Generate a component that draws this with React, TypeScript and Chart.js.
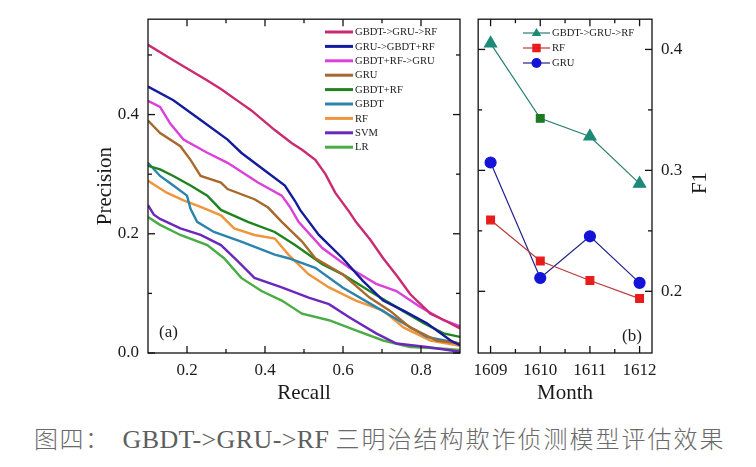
import React, { useEffect, useRef } from "react";
import { Chart, registerables } from "chart.js";

Chart.register(...registerables);

const FONT = '"Liberation Serif", "Times New Roman", serif';

// ---------- Panel (a): Precision-Recall ----------
const seriesNamesA = ["GBDT->GRU->RF", "GRU->GBDT+RF", "GBDT+RF->GRU", "GRU", "GBDT+RF", "GBDT", "RF", "SVM", "LR"];
const seriesColorsA = ["#cc2a70", "#141c9e", "#dc40d8", "#a8692e", "#1f841f", "#2a84ae", "#f0953c", "#6c28bc", "#4aac44"];

const recall_GGR = [0.1, 0.15, 0.209, 0.25, 0.287, 0.33, 0.365, 0.425, 0.469, 0.495, 0.529, 0.555, 0.58, 0.617, 0.633, 0.67, 0.703, 0.74, 0.772, 0.824, 0.86, 0.9];
const prec_GGR = [0.517, 0.497, 0.474, 0.458, 0.443, 0.423, 0.407, 0.374, 0.352, 0.341, 0.324, 0.3, 0.269, 0.236, 0.22, 0.19, 0.159, 0.128, 0.099, 0.066, 0.055, 0.041];

const recall_GGBR = [0.1, 0.165, 0.235, 0.304, 0.339, 0.408, 0.451, 0.477, 0.49, 0.538, 0.599, 0.651, 0.703, 0.755, 0.815, 0.876, 0.9];
const prec_GGBR = [0.447, 0.424, 0.391, 0.358, 0.336, 0.302, 0.281, 0.255, 0.24, 0.198, 0.159, 0.121, 0.088, 0.071, 0.05, 0.021, 0.013];

const recall_GRG = [0.1, 0.131, 0.157, 0.191, 0.252, 0.304, 0.382, 0.443, 0.464, 0.486, 0.547, 0.616, 0.685, 0.737, 0.798, 0.858, 0.9];
const prec_GRG = [0.423, 0.413, 0.385, 0.358, 0.336, 0.319, 0.286, 0.264, 0.245, 0.22, 0.176, 0.143, 0.116, 0.104, 0.077, 0.055, 0.045];

const recall_GRU = [0.1, 0.131, 0.183, 0.209, 0.235, 0.287, 0.304, 0.373, 0.408, 0.443, 0.495, 0.529, 0.599, 0.668, 0.72, 0.772, 0.84, 0.9];
const prec_GRU = [0.39, 0.369, 0.347, 0.324, 0.297, 0.286, 0.275, 0.258, 0.244, 0.22, 0.187, 0.159, 0.132, 0.093, 0.071, 0.043, 0.021, 0.016];

const recall_GBRF = [0.1, 0.131, 0.165, 0.209, 0.252, 0.287, 0.356, 0.425, 0.477, 0.547, 0.599, 0.668, 0.737, 0.807, 0.858, 0.9];
const prec_GBRF = [0.314, 0.308, 0.297, 0.281, 0.264, 0.24, 0.22, 0.203, 0.181, 0.149, 0.132, 0.104, 0.077, 0.05, 0.033, 0.027];

const recall_GBDT = [0.1, 0.131, 0.165, 0.2, 0.209, 0.226, 0.269, 0.339, 0.425, 0.46, 0.529, 0.599, 0.685, 0.755, 0.815, 0.9];
const prec_GBDT = [0.319, 0.297, 0.281, 0.264, 0.242, 0.22, 0.203, 0.187, 0.165, 0.159, 0.143, 0.11, 0.077, 0.05, 0.027, 0.016];

const recall_RF = [0.1, 0.148, 0.191, 0.235, 0.287, 0.321, 0.373, 0.425, 0.46, 0.512, 0.564, 0.633, 0.703, 0.755, 0.824, 0.9];
const prec_RF = [0.289, 0.269, 0.256, 0.245, 0.231, 0.209, 0.198, 0.192, 0.165, 0.132, 0.11, 0.088, 0.071, 0.043, 0.021, 0.012];

const recall_SVM = [0.1, 0.115, 0.131, 0.183, 0.235, 0.287, 0.33, 0.373, 0.443, 0.512, 0.564, 0.616, 0.685, 0.737, 0.815, 0.9];
const prec_SVM = [0.248, 0.232, 0.225, 0.209, 0.198, 0.181, 0.154, 0.126, 0.11, 0.093, 0.082, 0.06, 0.033, 0.016, 0.01, 0.002];

const recall_LR = [0.1, 0.131, 0.183, 0.252, 0.295, 0.339, 0.391, 0.443, 0.495, 0.564, 0.633, 0.703, 0.772, 0.84, 0.9];
const prec_LR = [0.228, 0.215, 0.198, 0.181, 0.159, 0.126, 0.104, 0.088, 0.066, 0.055, 0.038, 0.021, 0.01, 0.008, 0.005];

const recallSeries = [recall_GGR, recall_GGBR, recall_GRG, recall_GRU, recall_GBRF, recall_GBDT, recall_RF, recall_SVM, recall_LR];
const precisionSeries = [prec_GGR, prec_GGBR, prec_GRG, prec_GRU, prec_GBRF, prec_GBDT, prec_RF, prec_SVM, prec_LR];

const xTicksA = [0.2, 0.4, 0.6, 0.8];
const xMinorA = [0.3, 0.5, 0.7];
const yTicksA = [0, 0.2, 0.4];
const yMinorA = [0.1, 0.3, 0.5];

// ---------- Panel (b): F1 by month ----------
const months = ["1609", "1610", "1611", "1612"];
const f1_GGR = [0.405, 0.343, 0.328, 0.289];
const f1_RF = [0.259, 0.225, 0.209, 0.194];
const f1_GRU = [0.3065, 0.211, 0.2455, 0.207];
const xTicksB = [0, 1, 2, 3];
const xMinorB = [0.5, 1.5, 2.5];
const yTicksB = [0.2, 0.3, 0.4];
const yMinorB = [0.25, 0.35];

// ---------- plugins ----------
const framePlugin = {
  id: "frame",
  afterDatasetsDraw(chart: any, _args: any, opts: any) {
    const { ctx, chartArea, scales } = chart;
    const { left, right, top, bottom } = chartArea;
    ctx.save();
    ctx.strokeStyle = "#111";
    ctx.lineWidth = 1.3;
    ctx.strokeRect(left, top, right - left, bottom - top);
    const seg = (x1: number, y1: number, x2: number, y2: number) => {
      ctx.beginPath();
      ctx.moveTo(x1, y1);
      ctx.lineTo(x2, y2);
      ctx.stroke();
    };
    const xs = scales.x;
    const ys = scales.y;
    const xt = (vals: number[], len: number) =>
      vals.forEach((v) => {
        const px = xs.getPixelForValue(v);
        seg(px, bottom, px, bottom - len);
        seg(px, top, px, top + len);
      });
    const yt = (vals: number[], len: number) =>
      vals.forEach((v) => {
        const py = ys.getPixelForValue(v);
        seg(left, py, left + len, py);
        seg(right, py, right - len, py);
      });
    xt(opts.xMajor || [], 7);
    xt(opts.xMinor || [], 4);
    yt(opts.yMajor || [], 7);
    yt(opts.yMinor || [], 4);
    ctx.restore();
  },
};

function drawMarker(ctx: CanvasRenderingContext2D, style: string, x: number, y: number, r: number, color: string) {
  ctx.save();
  ctx.fillStyle = color;
  ctx.beginPath();
  if (style === "triangle") {
    ctx.moveTo(x, y - r);
    ctx.lineTo(x + r * 0.95, y + r * 0.6);
    ctx.lineTo(x - r * 0.95, y + r * 0.6);
    ctx.closePath();
  } else if (style === "rect") {
    ctx.rect(x - r * 0.85, y - r * 0.85, r * 1.7, r * 1.7);
  } else {
    ctx.arc(x, y, r, 0, Math.PI * 2);
  }
  ctx.fill();
  ctx.restore();
}

const legendPlugin = {
  id: "boxLegend",
  afterDraw(chart: any, _args: any, opts: any) {
    const { ctx } = chart;
    ctx.save();
    ctx.font = `${opts.fontSize}px ${FONT}`;
    ctx.textBaseline = "middle";
    ctx.textAlign = "left";
    chart.data.datasets.forEach((ds: any, i: number) => {
      const y = opts.y0 + i * opts.dy;
      ctx.strokeStyle = ds.borderColor;
      ctx.lineWidth = opts.lineWidth;
      ctx.beginPath();
      ctx.moveTo(opts.x0, y);
      ctx.lineTo(opts.x1, y);
      ctx.stroke();
      if (opts.markers) {
        const st = Array.isArray(ds.pointStyle) ? ds.pointStyle[0] : ds.pointStyle;
        const col = Array.isArray(ds.pointBackgroundColor) ? ds.pointBackgroundColor[0] : ds.pointBackgroundColor;
        drawMarker(ctx, st, (opts.x0 + opts.x1) / 2, y, opts.markerR, col);
      }
      ctx.fillStyle = "#222";
      ctx.fillText(ds.label, opts.textX, y + 0.5);
    });
    ctx.restore();
  },
};

const textPlugin = {
  id: "texts",
  afterDraw(chart: any, _args: any, opts: any) {
    const { ctx } = chart;
    (opts.items || []).forEach((t: any) => {
      ctx.save();
      ctx.font = `${t.size}px ${FONT}`;
      ctx.fillStyle = "#1a1a1a";
      ctx.textBaseline = "middle";
      ctx.textAlign = t.align || "left";
      ctx.translate(t.x, t.y);
      if (t.rotate) ctx.rotate(t.rotate);
      ctx.fillText(t.text, 0, 0);
      ctx.restore();
    });
  },
};

const tickFont = { family: FONT, size: 17 };
const titleFont = { family: FONT, size: 21 };

function PanelA() {
  const ref = useRef<HTMLCanvasElement | null>(null);
  useEffect(() => {
    if (!ref.current) return;
    const datasets = seriesNamesA.map((name, i) => ({
      label: name,
      data: recallSeries[i].map((r, j) => ({ x: r, y: precisionSeries[i][j] })),
      borderColor: seriesColorsA[i],
      backgroundColor: seriesColorsA[i],
      borderWidth: 2.4,
      pointRadius: 0,
      showLine: true,
      tension: 0,
      fill: false,
    }));
    const chart = new Chart(ref.current, {
      type: "scatter",
      data: { datasets },
      plugins: [framePlugin, legendPlugin, textPlugin],
      options: {
        animation: false,
        responsive: false,
        maintainAspectRatio: false,
        layout: { padding: { left: 93, top: 14, right: 6, bottom: 0 } },
        scales: {
          x: {
            type: "linear",
            min: 0.1,
            max: 0.9,
            afterBuildTicks: (s: any) => {
              s.ticks = xTicksA.map((v) => ({ value: v }));
            },
            afterFit: (s: any) => {
              s.height = 57;
            },
            grid: { display: false, drawTicks: false },
            border: { display: false },
            ticks: { font: tickFont, color: "#1a1a1a", padding: 7, maxRotation: 0, callback: (v: any) => Number(v).toFixed(1) },
            title: { display: true, text: "Recall", font: titleFont, color: "#1a1a1a", padding: { top: 0, bottom: 4 } },
          },
          y: {
            type: "linear",
            min: 0,
            max: 0.56,
            afterBuildTicks: (s: any) => {
              s.ticks = yTicksA.map((v) => ({ value: v }));
            },
            afterFit: (s: any) => {
              s.width = 55;
            },
            grid: { display: false, drawTicks: false },
            border: { display: false },
            ticks: { font: tickFont, color: "#1a1a1a", padding: 9, callback: (v: any) => Number(v).toFixed(1) },
            title: { display: true, text: "Precision", font: titleFont, color: "#1a1a1a", padding: { top: 0, bottom: 0 } },
          },
        },
        plugins: {
          legend: { display: false },
          tooltip: { enabled: false },
          frame: { xMajor: xTicksA, xMinor: xMinorA, yMajor: yTicksA, yMinor: yMinorA },
          boxLegend: { x0: 325, x1: 353, textX: 355, y0: 32, dy: 14.4, fontSize: 10.6, lineWidth: 3, markers: false },
          texts: { items: [{ text: "(a)", x: 159, y: 333, size: 17 }] },
        } as any,
      } as any,
    });
    return () => chart.destroy();
  }, []);
  return <canvas ref={ref} width={466} height={410} style={{ position: "absolute", left: 0, top: 0, width: 466, height: 410 }} />;
}

function PanelB() {
  const ref = useRef<HTMLCanvasElement | null>(null);
  useEffect(() => {
    if (!ref.current) return;
    const mk = (vals: number[]) => vals.map((v, i) => ({ x: i, y: v }));
    const chart = new Chart(ref.current, {
      type: "line",
      data: {
        datasets: [
          {
            label: "GBDT->GRU->RF",
            data: mk(f1_GGR),
            borderColor: "#2a7f70",
            borderWidth: 1.2,
            pointStyle: ["triangle", "rect", "triangle", "triangle"],
            pointBackgroundColor: ["#1d8a78", "#1e7a22", "#1d8a78", "#1d8a78"],
            pointBorderColor: ["#1d8a78", "#1e7a22", "#1d8a78", "#1d8a78"],
            pointRadius: [7, 5.5, 7, 7],
            tension: 0,
          },
          {
            label: "RF",
            data: mk(f1_RF),
            borderColor: "#b83a3a",
            borderWidth: 1.2,
            pointStyle: "rect",
            pointBackgroundColor: "#e81c1c",
            pointBorderColor: "#e81c1c",
            pointRadius: 5.5,
            tension: 0,
          },
          {
            label: "GRU",
            data: mk(f1_GRU),
            borderColor: "#22228c",
            borderWidth: 1.2,
            pointStyle: "circle",
            pointBackgroundColor: "#1414d8",
            pointBorderColor: "#1414d8",
            pointRadius: 5.5,
            tension: 0,
          },
        ],
      },
      plugins: [framePlugin, legendPlugin, textPlugin],
      options: {
        animation: false,
        responsive: false,
        maintainAspectRatio: false,
        layout: { padding: { left: 5, top: 14, right: 0, bottom: 0 } },
        scales: {
          x: {
            type: "linear",
            min: -0.25,
            max: 3.25,
            afterBuildTicks: (s: any) => {
              s.ticks = xTicksB.map((v) => ({ value: v }));
            },
            afterFit: (s: any) => {
              s.height = 57;
            },
            grid: { display: false, drawTicks: false },
            border: { display: false },
            ticks: { font: tickFont, color: "#1a1a1a", padding: 7, maxRotation: 0, callback: (v: any) => months[Math.round(Number(v))] },
            title: { display: true, text: "Month", font: titleFont, color: "#1a1a1a", padding: { top: 0, bottom: 4 } },
          },
          y: {
            type: "linear",
            position: "right",
            min: 0.149,
            max: 0.425,
            afterBuildTicks: (s: any) => {
              s.ticks = yTicksB.map((v) => ({ value: v }));
            },
            afterFit: (s: any) => {
              s.width = 104;
            },
            grid: { display: false, drawTicks: false },
            border: { display: false },
            ticks: { font: tickFont, color: "#1a1a1a", padding: 9, callback: (v: any) => Number(v).toFixed(1) },
            title: { display: false },
          },
        },
        plugins: {
          legend: { display: false },
          tooltip: { enabled: false },
          frame: { xMajor: xTicksB, xMinor: xMinorB, yMajor: yTicksB, yMinor: yMinorB },
          boxLegend: { x0: 57, x1: 84, textX: 86, y0: 33, dy: 15, fontSize: 10.6, lineWidth: 1.2, markers: true, markerR: 5 },
          texts: {
            items: [
              { text: "(b)", x: 156, y: 337, size: 17 },
              { text: "F1", x: 234, y: 183, size: 21, align: "center", rotate: -Math.PI / 2 },
            ],
          },
        } as any,
      } as any,
    });
    return () => chart.destroy();
  }, []);
  return <canvas ref={ref} width={290} height={410} style={{ position: "absolute", left: 466, top: 0, width: 290, height: 410 }} />;
}

export default function App() {
  return (
    <div style={{ position: "absolute", left: 0, top: 0, width: 756, height: 467, background: "#fff", overflow: "hidden" }}>
      <PanelA />
      <PanelB />
      <div
        style={{
          position: "absolute",
          left: 34,
          top: 423,
          height: 30,
          lineHeight: "30px",
          fontSize: 24,
          whiteSpace: "nowrap",
          color: "#5e5e5e",
          fontFamily: '"Liberation Serif", "Noto Sans CJK SC", serif',
        }}
      >
        <span style={{ fontFamily: '"Noto Sans CJK SC", sans-serif', fontWeight: 300, letterSpacing: 1.5, color: "#6a6a6a" }}>图四：</span>
        <span style={{ display: "inline-block", width: 12 }} />
        <span style={{ letterSpacing: 0.4, fontSize: 26 }}>GBDT-&gt;GRU-&gt;RF</span>
        <span style={{ display: "inline-block", width: 6 }} />
        <span style={{ fontFamily: '"Noto Sans CJK SC", sans-serif', fontWeight: 300, letterSpacing: 2, color: "#6a6a6a" }}>三明治结构欺诈侦测模型评估效果</span>
      </div>
    </div>
  );
}
